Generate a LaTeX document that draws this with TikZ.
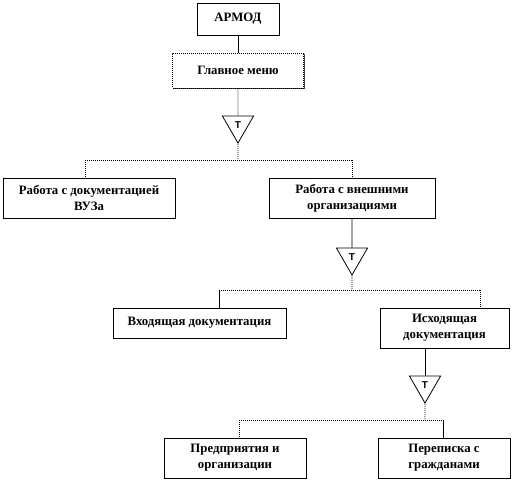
\documentclass[tikz,border=0pt]{standalone}
\usepackage{fontspec}
\setmainfont{Liberation Serif}
\newfontfamily\trifont{Liberation Sans}
\usetikzlibrary{shapes,shadows}

\begin{document}
\begin{tikzpicture}[x=1pt, y=-1pt,
    blok/.style={draw, fill=white, line width=0.8pt, align=center, inner sep=1pt,
      font=\fontsize{12.8}{16}\selectfont\bfseries,
      drop shadow={shadow xshift=1.3pt, shadow yshift=-1.3pt, fill=black!75, opacity=1}},
    tochki/.style={line width=0.9pt, dash pattern=on 1pt off 1pt},
    sploshn/.style={line width=0.9pt},
    treug/.style={draw, fill=white, regular polygon, regular polygon sides=3,
      shape border rotate=180, minimum size=36pt, inner sep=0pt, line width=0.8pt,
      font=\trifont\fontsize{10}{10}\selectfont\bfseries}]

    \useasboundingbox (0,0) rectangle (512,480);

    % Top of the tree
    \node[blok, minimum width=82pt, minimum height=32pt] (armod) at (238,19) {АРМОД};
    \node[blok, tochki, minimum width=131pt, minimum height=35pt] (menu) at (238,70.5) {Главное меню};
    \draw[sploshn] (armod.south) -- (menu.north);

    % First branching
    \node[treug] (t1) at (238,125) {Т};
    \draw[tochki] (menu.south) -- (t1.north);
    \node[blok, minimum width=172pt, minimum height=40pt] (vuz) at (89,198) {Работа с документацией\\ВУЗа};
    \node[blok, minimum width=166pt, minimum height=40pt] (vneshn) at (352,198) {Работа с внешними\\организациями};
    \coordinate (s1) at (238,160);
    \coordinate (b1l) at (85,160);
    \coordinate (b1r) at (352,160);
    \draw[tochki] (t1.south) -- (s1);
    \draw[tochki] (b1l) -- (b1r);
    \draw[tochki] (b1l) -- (b1l |- vuz.north);
    \draw[tochki] (b1r) -- (vneshn.north);

    % Second branching
    \node[treug] (t2) at (352,257) {Т};
    \draw[sploshn] (vneshn.south) -- (t2.north);
    \node[blok, minimum width=173pt, minimum height=30pt] (vhod) at (199.5,323) {Входящая документация};
    \node[blok, minimum width=129pt, minimum height=40pt] (ishod) at (444.5,328) {Исходящая\\документация};
    \coordinate (s2) at (352,290);
    \coordinate (b2l) at (219,290);
    \coordinate (b2r) at (480,290);
    \draw[tochki] (t2.south) -- (s2);
    \draw[tochki] (b2l) -- (b2r);
    \draw[sploshn] (b2l) -- (b2l |- vhod.north);
    \draw[tochki] (b2r) -- (b2r |- ishod.north);

    % Third branching
    \node[treug] (t3) at (425,385) {Т};
    \draw[sploshn] (t3.north |- ishod.south) -- (t3.north);
    \node[blok, minimum width=142pt, minimum height=40pt] (predpr) at (235,458) {Предприятия и\\организации};
    \node[blok, minimum width=132pt, minimum height=40pt] (perepis) at (444,458) {Переписка с\\гражданами};
    \coordinate (s3) at (425,420);
    \coordinate (b3l) at (239,420);
    \coordinate (b3r) at (443,420);
    \draw[tochki] (t3.south) -- (s3);
    \draw[tochki] (b3l) -- (b3r);
    \draw[tochki] (b3l) -- (b3l |- predpr.north);
    \draw[sploshn] (b3r) -- (b3r |- perepis.north);

\end{tikzpicture}
\end{document}
